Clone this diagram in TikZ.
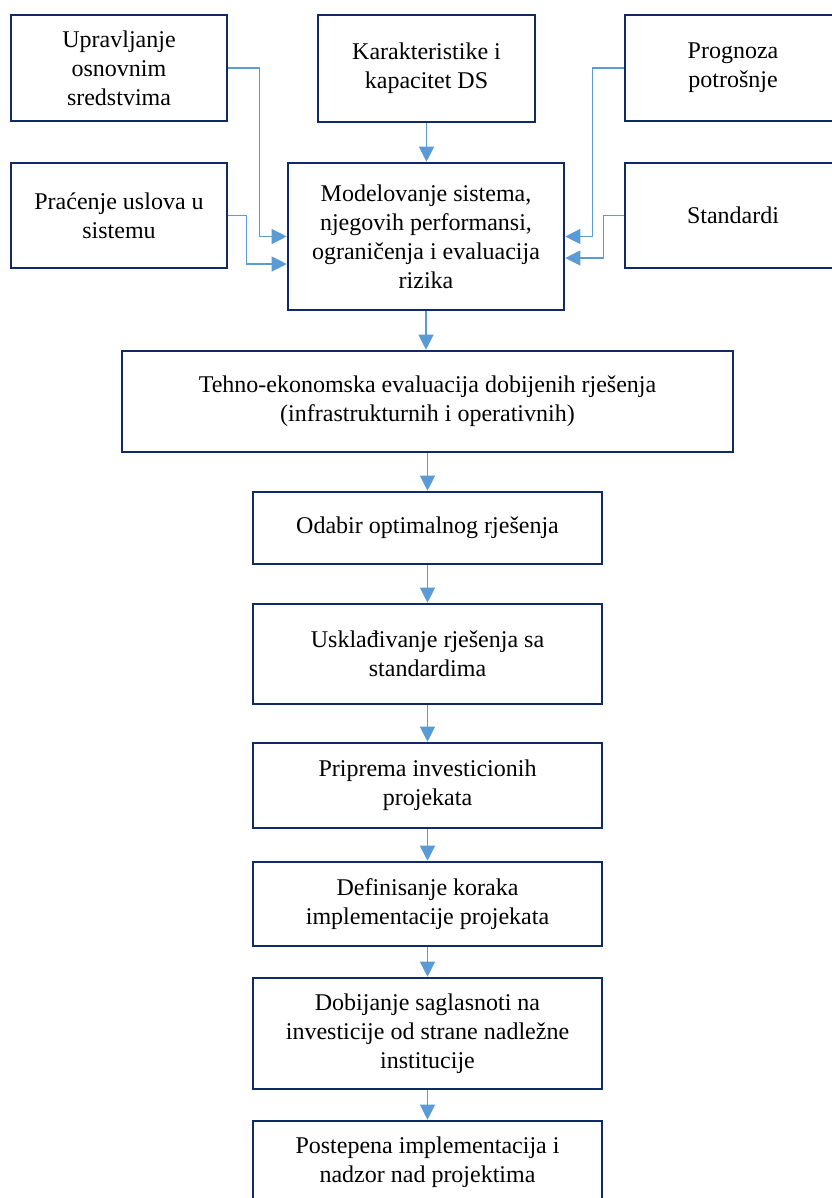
\documentclass[tikz,border=0pt]{standalone}
\usepackage{fontspec}
\setmainfont{Liberation Serif}
\usetikzlibrary{arrows.meta}
\definecolor{boxline}{RGB}{16,42,102}
\definecolor{flow}{RGB}{91,155,213}
\begin{document}
\begin{tikzpicture}[x=1bp,y=-1bp,
  box/.style={draw=boxline, line width=2.6bp, rectangle, inner sep=0pt,
    align=center, text=black,
    font=\fontsize{24bp}{29bp}\selectfont},
  conn/.style={draw=flow, line width=1.2bp,
    -{Triangle[length=15bp,width=15bp]}}]
\useasboundingbox (0,0) rectangle (832,1198);
\clip (0,0) rectangle (832,1198);
\fill[white] (0,0) rectangle (832,1198);

% top row of inputs
\node[box, minimum width=216bp, minimum height=106bp] (upr) at (119,68)
  {Upravljanje\\osnovnim\\sredstvima};
\node[box, minimum width=217bp, minimum height=107bp] (kar) at (426.5,68.5)
  {Karakteristike i\\kapacitet DS};
\node[box, minimum width=216bp, minimum height=106bp] (prog) at (733,68)
  {Prognoza\\potrošnje};

% second row
\node[box, minimum width=216bp, minimum height=105bp] (prac) at (119,215.5)
  {Praćenje uslova u\\sistemu};
\node[box, minimum width=276bp, minimum height=147bp] (mod) at (426,236.5)
  {Modelovanje sistema,\\njegovih performansi,\\ograničenja i evaluacija\\rizika};
\node[box, minimum width=216bp, minimum height=105bp] (std) at (733,215.5)
  {Standardi};

% main sequence
\node[box, minimum width=611bp, minimum height=101bp] (teh) at (427.5,401.5)
  {Tehno-ekonomska evaluacija dobijenih rješenja\\(infrastrukturnih i operativnih)};
\node[box, minimum width=349bp, minimum height=72bp] (oda) at (427.5,528)
  {Odabir optimalnog rješenja};
\node[box, minimum width=349bp, minimum height=100bp] (usk) at (427.5,654)
  {Usklađivanje rješenja sa\\standardima};
\node[box, minimum width=349bp, minimum height=85bp] (pri) at (427.5,785.5)
  {Priprema investicionih\\projekata};
\node[box, minimum width=349bp, minimum height=84bp] (def) at (427.5,904)
  {Definisanje koraka\\implementacije projekata};
\node[box, minimum width=349bp, minimum height=111bp] (dob) at (427.5,1033.5)
  {Dobijanje saglasnoti na\\investicije od strane nadležne\\institucije};
\node[box, minimum width=349bp, minimum height=83bp] (pos) at (427.5,1162.5)
  {Postepena implementacija i\\nadzor nad projektima};

% inputs into the model
\draw[conn] (kar.south) -- (kar.south |- mod.north);
\draw[conn] (upr.east) -- ++(31,0) |- (mod.west);
\draw[conn] (prac.east) -- ++(18,0) |- ([yshift=-27.5bp]mod.west);
\draw[conn] (prog.west) -- ++(-31,0) |- (mod.east);
\draw[conn] (std.west) -- ++(-20,0) |- ([yshift=-21.5bp]mod.east);

% sequence of steps
\draw[conn] (mod.south) -- (mod.south |- teh.north);
\draw[conn] (teh.south) -- (oda.north);
\draw[conn] (oda.south) -- (usk.north);
\draw[conn] (usk.south) -- (pri.north);
\draw[conn] (pri.south) -- (def.north);
\draw[conn] (def.south) -- (dob.north);
\draw[conn] (dob.south) -- (pos.north);
\end{tikzpicture}
\end{document}
